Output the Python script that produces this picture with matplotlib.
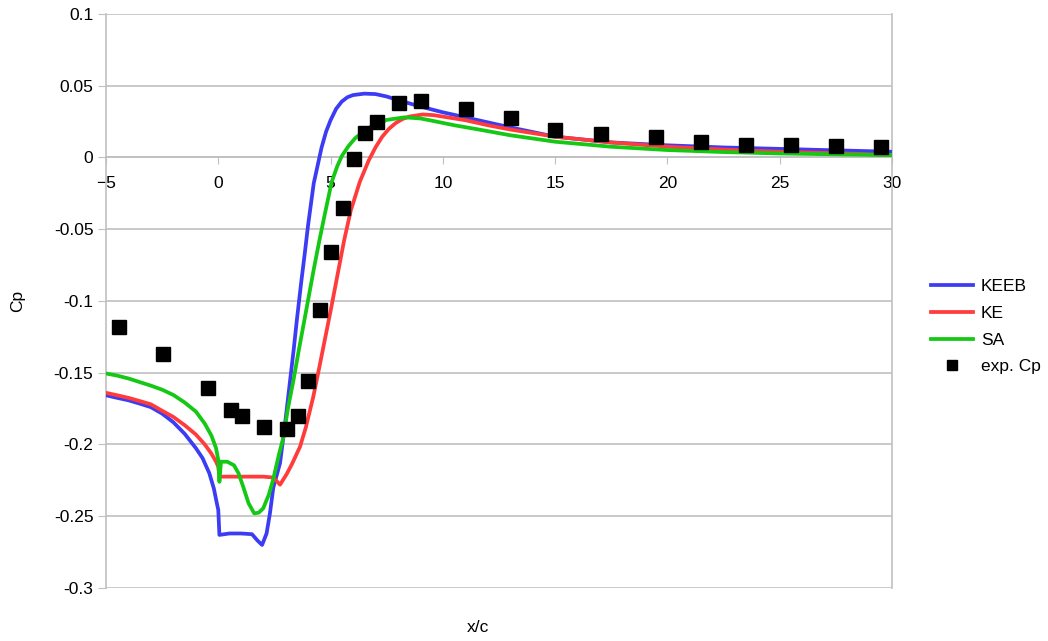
import matplotlib
matplotlib.use("Agg")
import matplotlib.pyplot as plt

plt.rcParams["font.family"] = ["Liberation Sans", "DejaVu Sans"]

# KEEB
keeb_x = [-5, -4.5, -4, -3.5, -3, -2.5, -2, -1.5, -1.0, -0.7, -0.4, -0.2, -0.05, 0.0, 0.05,
          0.5, 1.0, 1.5, 1.75, 1.95, 2.15, 2.3, 2.45, 2.75, 3.0, 3.2, 3.35, 3.5, 3.7, 3.85,
          4.0, 4.25, 4.6, 4.8, 5.0, 5.25, 5.5, 5.75, 6.0, 6.5, 7.0, 7.5, 8.0, 9.0, 10, 11, 12,
          13, 15, 17.5, 20, 22.5, 25, 27.5, 30]
keeb_y = [-0.1657, -0.1675, -0.1692, -0.1715, -0.174, -0.1785, -0.1845, -0.1925, -0.2025,
          -0.2095, -0.220, -0.2305, -0.242, -0.2456, -0.263, -0.262, -0.262, -0.2625, -0.267,
          -0.270, -0.262, -0.248, -0.230, -0.213, -0.182, -0.155, -0.135, -0.113, -0.086,
          -0.067, -0.047, -0.018, 0.007, 0.018, 0.026, 0.034, 0.039, 0.042, 0.0435, 0.0445,
          0.0442, 0.0425, 0.040, 0.0355, 0.0315, 0.028, 0.0245, 0.021, 0.0145, 0.0105, 0.0085,
          0.007, 0.006, 0.005, 0.004]

# KE
ke_x = [-5, -4.5, -4, -3.5, -3, -2.5, -2, -1.5, -1, -0.6, -0.3, -0.1, 0.0, 0.05, 1.0, 2.0,
        2.45, 2.75, 3.05, 3.3, 3.64, 3.9, 4.23, 4.45, 4.68, 5.0, 5.27, 5.6, 5.9, 6.3, 6.7,
        7.0, 7.3, 7.6, 7.9, 8.2, 8.5, 9.1, 9.6, 10, 11, 12, 13, 15, 17.5, 20, 22.5, 25, 27.5,
        30]
ke_y = [-0.164, -0.1657, -0.1675, -0.1697, -0.172, -0.1765, -0.1808, -0.1865, -0.193, -0.200,
        -0.2065, -0.212, -0.2155, -0.2224, -0.2224, -0.2224, -0.223, -0.228, -0.2205, -0.213,
        -0.2015, -0.188, -0.1667, -0.150, -0.132, -0.107, -0.085, -0.058, -0.037, -0.017,
        -0.002, 0.007, 0.0145, 0.020, 0.024, 0.0268, 0.0285, 0.030, 0.0295, 0.0285, 0.026,
        0.0225, 0.0195, 0.0145, 0.0105, 0.0075, 0.0055, 0.004, 0.003, 0.0017]

# SA
sa_x = [-5, -4.5, -4, -3.5, -3, -2.5, -2, -1.5, -1, -0.6, -0.3, -0.1, 0.0, 0.05, 0.12, 0.4,
        0.7, 0.9, 1.1, 1.35, 1.6, 1.8, 2.0, 2.25, 2.45, 2.7, 2.9, 3.1, 3.35, 3.6, 3.85, 4.05,
        4.25, 4.5, 4.75, 5.05, 5.3, 5.5, 5.8, 6.1, 6.45, 6.8, 7.5, 8.3, 9.0, 9.4, 10.5, 11.6,
        13, 15, 17.5, 20, 22.5, 25, 27.5, 30]
sa_y = [-0.1505, -0.152, -0.154, -0.1565, -0.159, -0.1618, -0.1655, -0.1707, -0.177, -0.1855,
        -0.194, -0.2025, -0.2108, -0.226, -0.212, -0.212, -0.2145, -0.220, -0.229, -0.241,
        -0.248, -0.2475, -0.2445, -0.235, -0.224, -0.207, -0.195, -0.175, -0.155, -0.133,
        -0.112, -0.095, -0.078, -0.058, -0.039, -0.017, -0.006, 0.001, 0.008, 0.0135, 0.018,
        0.0215, 0.0262, 0.028, 0.0272, 0.026, 0.0225, 0.0195, 0.0155, 0.011, 0.0075, 0.0052,
        0.0038, 0.0028, 0.0022, 0.0017]

# experiment
exp_x = [-4.42, -2.46, -0.46, 0.57, 1.06, 2.04, 3.06, 3.55, 4.0, 4.53, 5.02, 5.55, 6.04, 6.53,
         7.07, 8.05, 9.03, 11.03, 13.03, 15.0, 17.04, 19.5, 21.5, 23.5, 25.5, 27.5, 29.5]
exp_y = [-0.118, -0.137, -0.1606, -0.176, -0.180, -0.188, -0.189, -0.180, -0.156, -0.106,
         -0.066, -0.035, -0.001, 0.017, 0.025, 0.038, 0.0395, 0.034, 0.0275, 0.019, 0.0164,
         0.014, 0.0105, 0.0085, 0.0088, 0.0078, 0.0075]

fig = plt.figure(figsize=(10.48, 6.41), dpi=100)
ax = fig.add_axes([106 / 1048, 1 - 588 / 641, 786 / 1048, 574 / 641])

ax.plot(keeb_x, keeb_y, color="#3c3cf5", lw=2.7, label="KEEB", zorder=3)
ax.plot(ke_x, ke_y, color="#ff3b3b", lw=2.7, label="KE", zorder=3)
ax.plot(sa_x, sa_y, color="#14c814", lw=2.7, label="SA", zorder=3)
ax.plot(exp_x, exp_y, ls="none", marker="s", ms=10, color="black", label="exp. Cp", zorder=4)

ax.set_xlim(-5, 30)
ax.set_ylim(-0.3, 0.1)
ax.set_xticks(range(-5, 31, 5))
ax.set_yticks([-0.3, -0.25, -0.2, -0.15, -0.1, -0.05, 0, 0.05, 0.1])
ax.set_yticklabels(["-0.3", "-0.25", "-0.2", "-0.15", "-0.1", "-0.05", "0", "0.05", "0.1"])
ax.grid(axis="y", color="#c0c0c0", lw=1.2)
ax.set_axisbelow(True)

ax.spines["top"].set_visible(False)
ax.spines["bottom"].set_position(("data", 0))
for s in ["left", "right", "bottom"]:
    ax.spines[s].set_color("#c0c0c0")
    ax.spines[s].set_linewidth(1.2)
ax.tick_params(axis="y", length=5.5, color="#c0c0c0", labelsize=12.5, pad=3.5)
ax.tick_params(axis="x", length=5, color="#c0c0c0", labelsize=12.5, pad=8)

ax.set_ylabel("Cp", fontsize=12.5, labelpad=0)
ax.yaxis.set_label_coords(-0.103, 0.5)
ax.text(0.473, -0.068, "x/c", transform=ax.transAxes, fontsize=12.5, ha="center", va="center")

ax.legend(loc="center left", bbox_to_anchor=(1.03, 0.455), frameon=False, fontsize=12.5,
          handlelength=2.4, handletextpad=0.46, labelspacing=0.66, markerscale=0.75)

fig.savefig("out.png", dpi=100)
